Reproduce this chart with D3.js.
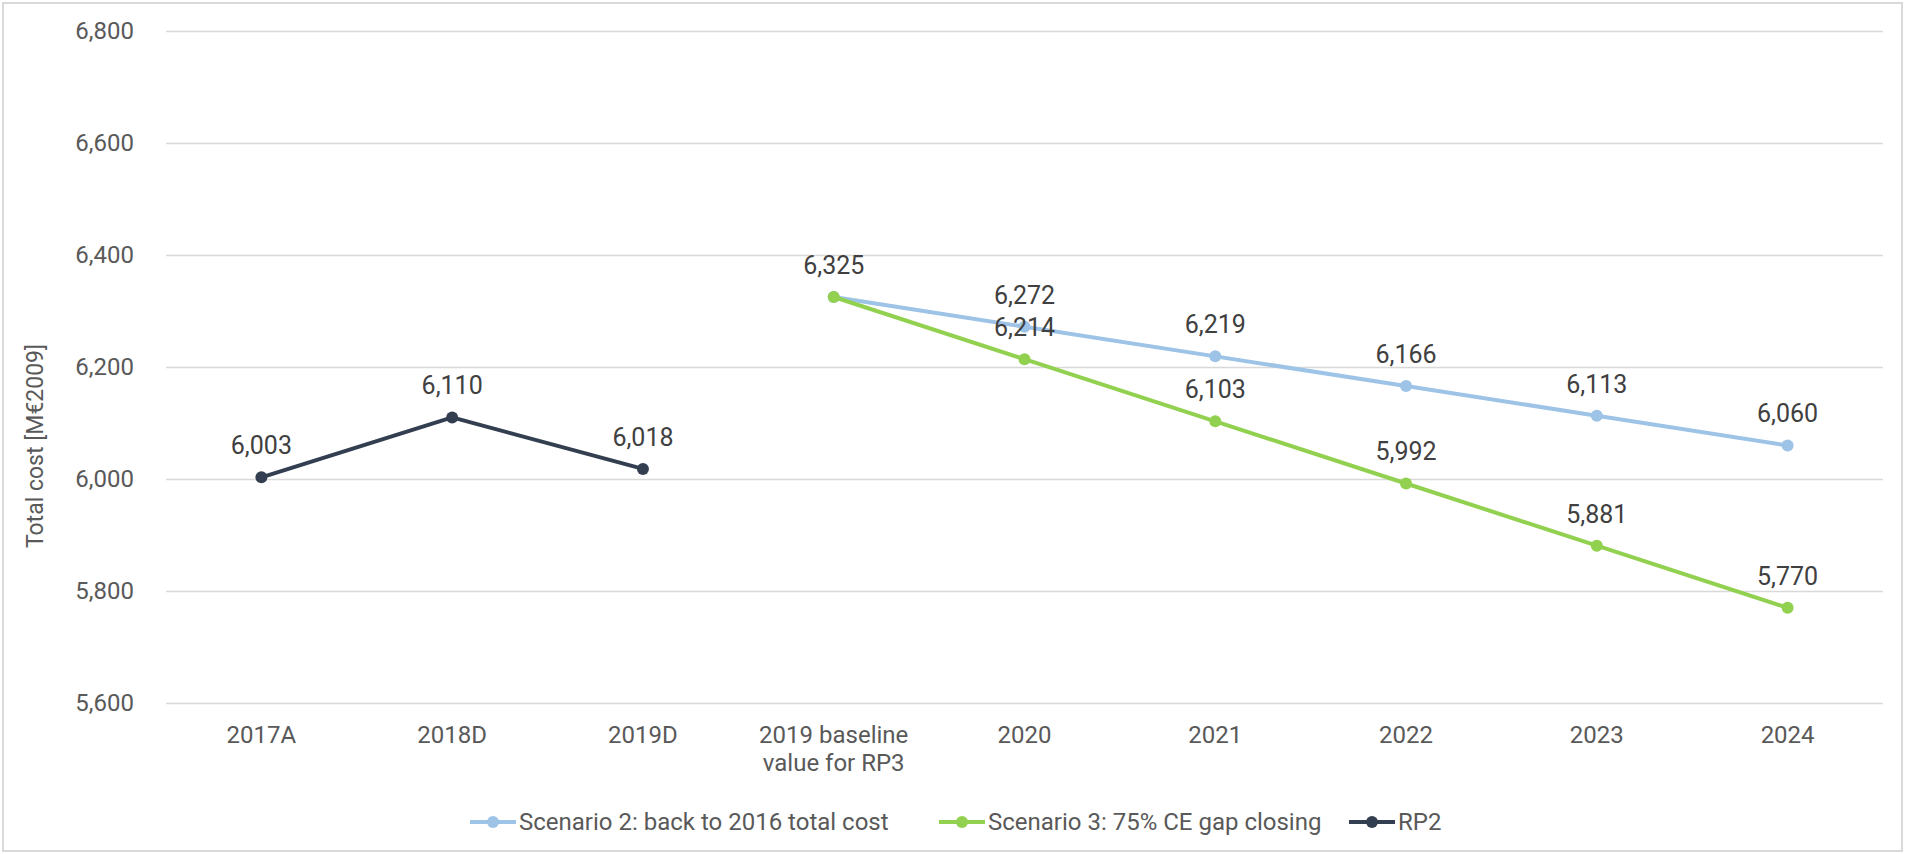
<!DOCTYPE html>
<html><head><meta charset="utf-8">
<script src="https://cdn.jsdelivr.net/npm/d3@7"></script>
<style>
html,body{margin:0;padding:0;background:#fff;}
svg text{font-family:"Roboto","Open Sans",sans-serif;}
</style></head>
<body><svg id="c" width="1905" height="854"></svg>
<script>
const categories = ["2017A","2018D","2019D","2019 baseline\nvalue for RP3","2020","2021","2022","2023","2024"];
const scenario2 = [null,null,null,6325,6272,6219,6166,6113,6060];
const scenario3 = [null,null,null,6325,6214,6103,5992,5881,5770];
const rp2 = [6003,6110,6018,null,null,null,null,null,null];
const yTicks = [5600,5800,6000,6200,6400,6600,6800];
const seriesNames = ["Scenario 2: back to 2016 total cost","Scenario 3: 75% CE gap closing","RP2"];
const seriesColors = ["#9DC3E6","#92D050","#333F50"];

const svg = d3.select("#c");
const W = 1905, H = 854;
const m = {left:166, right:22, top:31, bottom:151};

svg.append("rect").attr("x",3).attr("y",3).attr("width",W-6).attr("height",H-6)
  .attr("fill","#fff").attr("stroke","#D9D9D9").attr("stroke-width",2);

const x = d3.scaleBand().domain(categories.map((d,i)=>i)).range([m.left, W-m.right]);
const y = d3.scaleLinear().domain([5600,6800]).range([H-m.bottom, m.top]);

// gridlines + y tick labels
const yAxis = d3.axisLeft(y).tickValues(yTicks).tickSize(-(W-m.left-m.right)).tickPadding(32)
  .tickFormat(d3.format(","));
const gy = svg.append("g").attr("transform",`translate(${m.left},0)`).call(yAxis);
gy.select(".domain").remove();
gy.selectAll(".tick line").attr("stroke","#D9D9D9").attr("stroke-width",1.3);
gy.selectAll(".tick text").attr("fill","#595959").style("font-size","24px");

// x axis labels
const gx = svg.append("g").attr("transform",`translate(0,${H-m.bottom})`);
categories.forEach((c,i)=>{
  const cx = x(i)+x.bandwidth()/2;
  const t = gx.append("text").attr("x", cx).attr("y",40)
    .attr("text-anchor","middle").attr("fill","#595959").style("font-size","24px");
  c.split("\n").forEach((ln,j)=>t.append("tspan").attr("x", cx).attr("dy", j?28:0).text(ln));
});

// y axis title
svg.append("text").attr("transform",`translate(43,446) rotate(-90)`)
  .attr("text-anchor","middle").attr("fill","#595959").style("font-size","23px").text("Total cost [M€2009]");

const allSeries = [scenario2, scenario3, rp2];
const line = d3.line().defined(d=>d.v!=null).x(d=>x(d.i)+x.bandwidth()/2).y(d=>y(d.v));
allSeries.forEach((s,k)=>{
  const pts = s.map((v,i)=>({v,i}));
  svg.append("path").datum(pts).attr("d",line).attr("fill","none")
    .attr("stroke",seriesColors[k]).attr("stroke-width",4).attr("stroke-linejoin","round");
  const valid = pts.filter(d=>d.v!=null);
  svg.selectAll(null).data(valid).enter().append("circle")
    .attr("cx",d=>x(d.i)+x.bandwidth()/2).attr("cy",d=>y(d.v)).attr("r",6).attr("fill",seriesColors[k]);
});
// data labels
allSeries.forEach((s,k)=>{
  s.forEach((v,i)=>{
    if(v==null) return;
    if(k==1 && i==3) return; // baseline shared label
    svg.append("text").attr("x",x(i)+x.bandwidth()/2).attr("y",y(v)-23)
      .attr("text-anchor","middle").attr("fill","#404040").style("font-size","25px")
      .text(d3.format(",")(v));
  });
});

// legend
const legX = [470, 939, 1349];
const legY = 822;
seriesNames.forEach((n,k)=>{
  const g = svg.append("g").attr("transform",`translate(${legX[k]},${legY})`);
  g.append("line").attr("x1",0).attr("x2",46).attr("y1",0).attr("y2",0)
    .attr("stroke",seriesColors[k]).attr("stroke-width",4);
  g.append("circle").attr("cx",23).attr("cy",0).attr("r",6).attr("fill",seriesColors[k]);
  g.append("text").attr("x",49).attr("y",8).attr("fill","#595959").style("font-size","24px").text(n);
});
</script></body></html>
